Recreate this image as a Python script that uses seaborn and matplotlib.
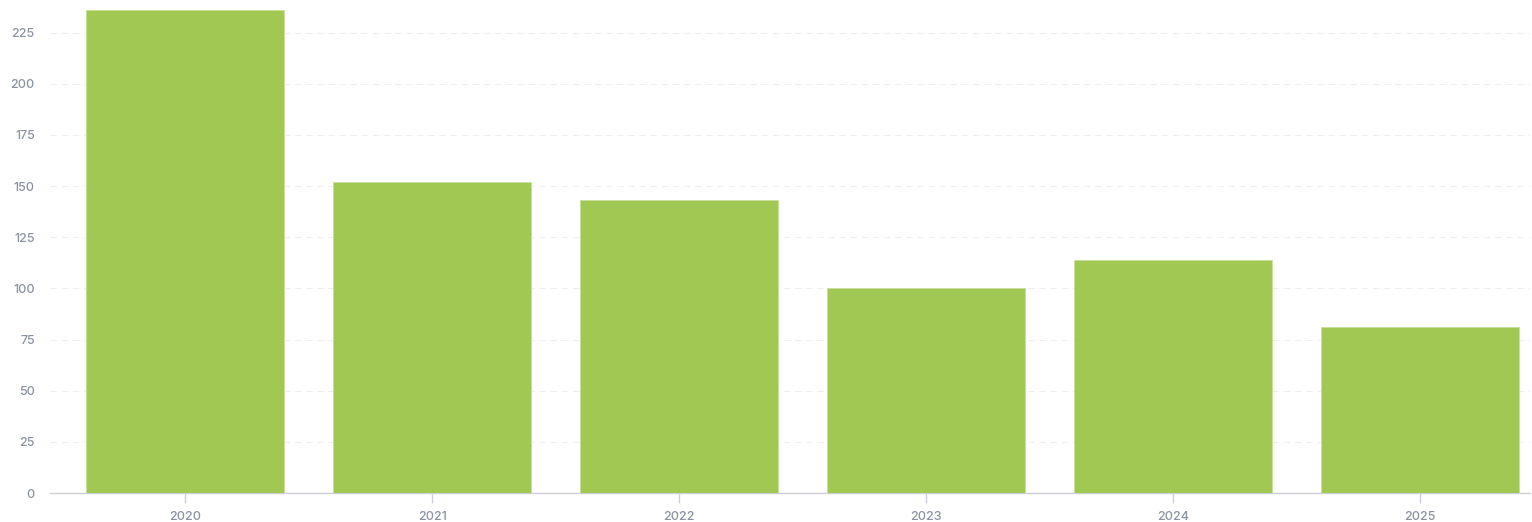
import matplotlib
matplotlib.use("Agg")
import matplotlib.pyplot as plt
import seaborn as sns
import pandas as pd

years = ["2020", "2021", "2022", "2023", "2024", "2025"]
counts = [236, 152, 143, 100, 114, 81]

df = pd.DataFrame({"year": years, "count": counts})

sns.set_style("white")
plt.rcParams["font.family"] = ["Inter", "DejaVu Sans"]

fig = plt.figure(figsize=(15.32, 5.22), dpi=100)
ax = fig.add_axes([50 / 1532, 29 / 522, 1480 / 1532, 491 / 522])

sns.barplot(data=df, x="year", y="count", color="#a1c852", saturation=1,
            width=0.8, edgecolor="#c8e09a", linewidth=0.6, ax=ax, zorder=3)

ax.set_ylim(0, 240)
ax.set_xlim(-0.547, 5.445)
ax.set_yticks(range(0, 226, 25))
ax.yaxis.grid(True, linestyle=(0, (6, 4)), color="#eeeff2", linewidth=0.8, zorder=0)
ax.set_xlabel("")
ax.set_ylabel("")

for s in ["top", "right", "left"]:
    ax.spines[s].set_visible(False)
ax.spines["bottom"].set_color("#ccd0d8")
ax.spines["bottom"].set_linewidth(1)

ax.tick_params(axis="x", length=7, width=1, color="#ccd0d8", labelcolor="#8b92a0",
               labelsize=9, pad=6, bottom=True)
ax.tick_params(axis="y", length=0, labelcolor="#8b92a0", labelsize=9, pad=11)
for lab in ax.get_xticklabels() + ax.get_yticklabels():
    lab.set_fontweight("medium")

plt.savefig("out.png", dpi=100)
